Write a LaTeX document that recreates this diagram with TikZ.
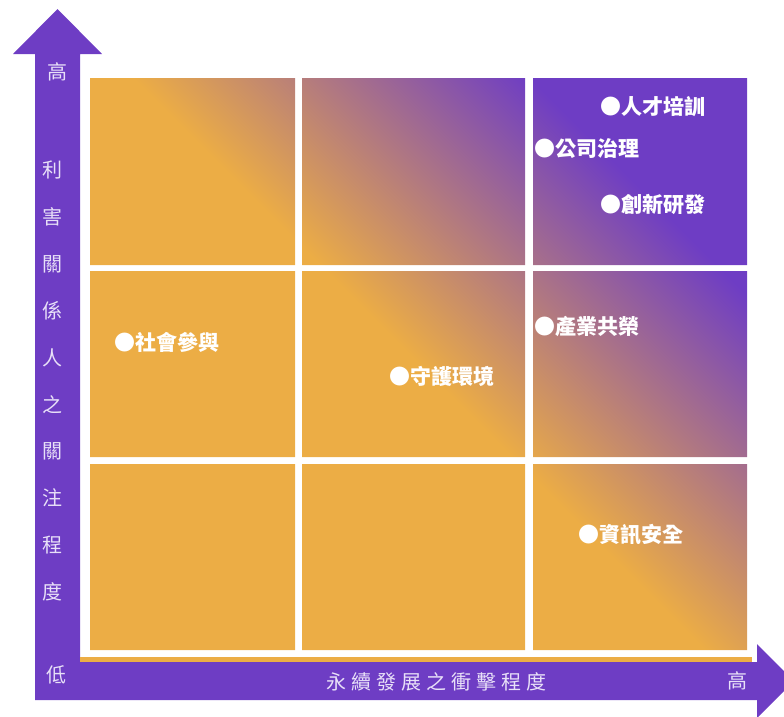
\documentclass[tikz,border=0pt]{standalone}
\usepackage{fontspec}
\newfontfamily\cjk{Noto Sans CJK TC}
\definecolor{axispurple}{HTML}{6E3DC4}
\definecolor{axislight}{HTML}{E8E0F8}
\definecolor{cellorange}{HTML}{ECAD45}
\pgfdeclarehorizontalshading{impactshade}{100bp}{color(0bp)=(cellorange); color(50bp)=(cellorange); color(73bp)=(axispurple); color(100bp)=(axispurple)}

\begin{document}
\begin{tikzpicture}[x=1pt, y=-1pt,
	tag/.style={anchor=west, inner sep=0, text=white, font=\cjk\bfseries\fontsize{21}{24}\selectfont},
	axistext/.style={inner sep=0, text=axislight, font=\cjk\fontsize{20}{24}\selectfont}]
	\useasboundingbox (0,0) rectangle (784,716);
	\fill[axispurple] (35,700) -- (35,54) -- (13,54) -- (57.5,9) -- (102,54) -- (80,54) -- (80,662) -- (757,662) -- (757,644) -- (794,681) -- (757,718) -- (757,700) -- cycle;
	\fill[cellorange] (80,657) rectangle (752,662);
	\begin{scope}
	\clip (90,78) rectangle (295,265) (302,78) rectangle (525,265) (533,78) rectangle (747,265)
	      (90,271) rectangle (295,457) (302,271) rectangle (525,457) (533,271) rectangle (747,457)
	      (90,464) rectangle (295,650) (302,464) rectangle (525,650) (533,464) rectangle (747,650);
	\shade[shading=impactshade, shading angle=45] (90,78) rectangle (747,650);
	\end{scope}
	\node[axistext] (yhigh) at (57.5,72) {高};
	\node[axistext] (ylow) at (56,675) {低};
	\node[axistext, align=center, font=\cjk\fontsize{20}{46.9}\selectfont] (ytitle) at (52,381) {利\\害\\關\\係\\人\\之\\關\\注\\程\\度};
	\node[axistext, font=\cjk\addfontfeature{LetterSpace=25}\fontsize{20}{24}\selectfont] (xtitle) at (436,682) {永續發展之衝擊程度};
	\node[axistext] (xhigh) at (737,681) {高};
	\node[tag] (talent) at (600,107) {●人才培訓};
	\node[tag] (governance) at (534,149) {●公司治理};
	\node[tag] (innovation) at (600,204) {●創新研發};
	\node[tag] (community) at (114,342) {●社會參與};
	\node[tag] (environment) at (389,376) {●守護環境};
	\node[tag] (industry) at (534,326) {●產業共榮};
	\node[tag] (security) at (578,535) {●資訊安全};
\end{tikzpicture}
\end{document}
